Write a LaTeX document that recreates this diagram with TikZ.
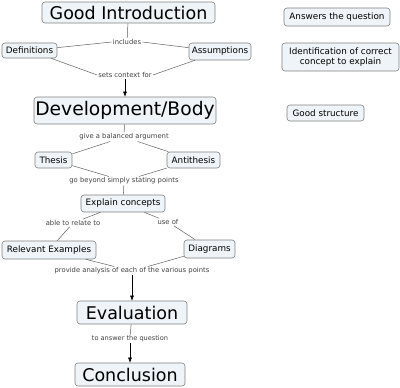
\documentclass[tikz,border=0pt]{standalone}
\usepackage{fontspec}
\setmainfont{DejaVu Sans}
\usetikzlibrary{arrows.meta}
\definecolor{boxfill}{HTML}{EEF4F7}
\definecolor{boxline}{HTML}{808080}
\definecolor{labtext}{HTML}{404040}
\definecolor{conline}{HTML}{606060}
\begin{document}
\begin{tikzpicture}[x=1pt,y=-1pt,
  concept/.style={draw=boxline,fill=boxfill,rounded corners=3pt,inner sep=0pt,align=center,line width=0.6pt},
  big/.style={concept,font=\fontsize{17.5}{20}\selectfont},
  small/.style={concept,font=\fontsize{8.8}{10.5}\selectfont},
  lab/.style={inner sep=1pt,text=labtext,font=\fontsize{6.8}{8}\selectfont},
  con/.style={draw=conline,line width=0.5pt},
  arr/.style={con,-{Latex[length=5pt,width=4pt]},draw=black}]
\useasboundingbox (0,0) rectangle (400,388);
% concepts
\node[big,minimum width=173pt,minimum height=21pt] (gi) at (128.5,12.5) {Good Introduction};
\node[small,minimum width=55pt,minimum height=15pt] (def) at (29.5,50.5) {Definitions};
\node[small,minimum width=62pt,minimum height=17pt] (ass) at (220,51.5) {Assumptions};
\node[big,font=\fontsize{18.7}{21}\selectfont,minimum width=182pt,minimum height=27pt] (dev) at (125,110.5) {Development/Body};
\node[small,minimum width=37pt,minimum height=16pt] (thes) at (53.5,160) {Thesis};
\node[small,minimum width=53pt,minimum height=16pt] (anti) at (193.5,160) {Antithesis};
\node[small,minimum width=84pt,minimum height=17pt] (exp) at (123,203.5) {Explain concepts};
\node[small,minimum width=94pt,minimum height=18pt] (rel) at (49,250) {Relevant Examples};
\node[small,minimum width=51pt,minimum height=18pt] (dia) at (209.5,249) {Diagrams};
\node[big,minimum width=110pt,minimum height=23pt] (eva) at (132,312.5) {Evaluation};
\node[big,minimum width=110pt,minimum height=23pt] (con) at (130,374.5) {Conclusion};
\node[small,minimum width=106pt,minimum height=18pt] (ans) at (337,17) {Answers the question};
\node[small,minimum width=117pt,minimum height=28pt] (idf) at (340.5,57) {Identification of correct\\concept to explain};
\node[small,minimum width=77pt,minimum height=16pt] (gs) at (325.5,113) {Good structure};
% labels
\node[lab] (l1) at (127,42) {includes};
\node[lab] (l2) at (125,75) {sets context for};
\node[lab] (l3) at (124,137) {give a balanced argument};
\node[lab] (l4) at (124,181) {go beyond simply stating points};
\node[lab] (l5) at (73,223) {able to relate to};
\node[lab] (l6) at (168,222) {use of};
\node[lab] (l7) at (132,271) {provide analysis of each of the various points};
\node[lab,font=\fontsize{6.6}{8}\selectfont] (l8) at (130,339) {to answer the question};
% connectors
\draw[con] (gi) -- (l1);
\draw[con] (l1.west) -- (def);
\draw[con] (l1.east) -- (ass);
\draw[con] (def) -- (l2.west);
\draw[con] (ass) -- (l2.east);
\draw[arr] (l2) -- (dev);
\draw[con] (dev) -- (l3);
\draw[con] (l3) -- (thes);
\draw[con] (l3) -- (anti);
\draw[con] (thes) -- (l4);
\draw[con] (anti) -- (l4);
\draw[con] (l4) -- (exp);
\draw[con] (exp) -- (l5);
\draw[con] (l5) -- (rel);
\draw[con] (exp) -- (l6);
\draw[con] (l6) -- (dia);
\draw[con] (rel) -- (l7);
\draw[con] (dia) -- (l7);
\draw[arr] (l7) -- (eva);
\draw[con] (eva) -- (l8);
\draw[arr] (l8) -- (con);
\end{tikzpicture}
\end{document}
